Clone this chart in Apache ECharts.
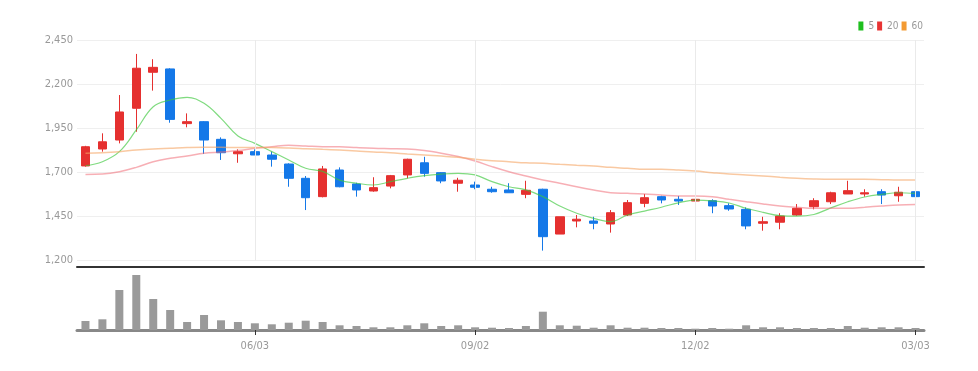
<!DOCTYPE html>
<html><head><meta charset="utf-8">
<script src="https://cdn.jsdelivr.net/npm/echarts@6/dist/echarts.min.js"></script>
<style>html,body{margin:0;padding:0;background:#fff}#c{width:978px;height:371px}</style>
</head><body><div id="c"></div>
<script>
var dates = ['03/25','04/01','04/08','04/15','04/22','04/29','05/06','05/13','05/20','05/27',
'06/03','06/10','06/17','06/24','07/01','07/08','07/15','07/22','07/29','08/05',
'08/12','08/19','08/26','09/02','09/09','09/16','09/23','09/30','10/07','10/14',
'10/21','10/28','11/04','11/11','11/18','11/25','12/02','12/09','12/16','12/23',
'12/30','01/06','01/13','01/20','01/27','02/03','02/10','02/17','02/24','03/03'];
var tickLabels = ['06/03','09/02','12/02','03/03'];
var openP = [1736,1832,1883,2063,2267,2286,1976,1987,1887,1805,
1817,1798,1747,1666,1562,1713,1634,1594,1622,1685,
1754,1698,1638,1628,1604,1600,1575,1604,1350,1424,
1424,1407,1458,1524,1562,1547,1537,1539,1511,1490,
1411,1417,1458,1505,1533,1577,1577,1590,1567,1590];
var closeP = [1845,1873,2042,2290,2295,2000,1987,1883,1811,1817,
1798,1774,1666,1556,1719,1618,1600,1613,1681,1774,
1694,1651,1655,1615,1590,1584,1598,1335,1448,1434,
1411,1471,1528,1556,1543,1537,1547,1509,1492,1396,
1420,1452,1496,1539,1584,1596,1584,1571,1587,1562];
var lowP = [1732,1817,1864,1930,2163,1981,1955,1804,1770,1754,
1798,1732,1618,1486,1558,1615,1562,1590,1609,1666,
1675,1638,1590,1604,1584,1584,1553,1256,1350,1388,
1377,1358,1452,1502,1524,1515,1515,1468,1482,1377,
1369,1377,1454,1490,1520,1577,1562,1520,1533,1562];
var highP = [1850,1921,2138,2371,2341,2290,2034,1990,1898,1830,
1830,1817,1751,1679,1736,1728,1641,1672,1685,1777,
1788,1700,1669,1647,1618,1638,1652,1607,1448,1458,
1448,1486,1543,1577,1567,1566,1548,1547,1524,1501,
1448,1468,1520,1553,1590,1652,1604,1604,1618,1609];
var ma5 = [1737,1760,1817,1940,2072,2110,2125,2091,2006,1906,
1864,1817,1770,1723,1705,1656,1638,1628,1647,1666,
1681,1690,1694,1685,1647,1618,1600,1562,1509,1468,
1439,1420,1458,1480,1502,1527,1542,1538,1526,1496,
1473,1454,1451,1461,1498,1533,1560,1575,1584,1580];
var ma20 = [1688,1690,1703,1728,1760,1779,1792,1808,1815,1823,
1836,1845,1853,1849,1845,1845,1840,1836,1834,1832,
1823,1808,1789,1764,1732,1703,1679,1656,1638,1618,
1600,1584,1581,1577,1571,1566,1566,1562,1547,1533,
1520,1509,1502,1496,1496,1496,1502,1509,1515,1518];
var ma60 = [1808,1811,1817,1826,1832,1836,1840,1842,1842,1840,
1840,1840,1838,1834,1830,1826,1821,1815,1811,1804,
1798,1792,1785,1774,1766,1760,1754,1751,1745,1740,
1736,1728,1723,1717,1717,1713,1707,1698,1690,1685,
1679,1672,1666,1662,1660,1660,1660,1658,1656,1656];
var volume = [90000,107000,400000,550000,310000,200000,80000,150000,97000,80000,
67000,57000,73000,93000,80000,47000,40000,27000,27000,47000,
67000,40000,47000,27000,23000,20000,40000,183000,47000,43000,
23000,47000,23000,23000,20000,20000,13000,20000,13000,47000,
27000,27000,20000,20000,20000,40000,23000,27000,27000,20000];

var candles = dates.map(function(d,i){return [openP[i],closeP[i],lowP[i],highP[i]];});
var font = "'Liberation Sans Narrow','DejaVu Sans Condensed','Roboto Condensed',sans-serif";
var chart = echarts.init(document.getElementById('c'), null, {renderer:'canvas'});
function showTick(i, v){ return tickLabels.indexOf(v) >= 0; }
chart.setOption({
  animation:false,
  backgroundColor:'#fff',
  legend:{
    right:55, top:21, padding:0, itemWidth:5, itemHeight:9, itemGap:3,
    icon:'rect',
    textStyle:{color:'#999', fontSize:10, fontFamily:font},
    data:['5','20','60']
  },
  grid:[
    {left:77, right:54, top:40, height:220.5},
    {left:77, right:54, top:267, bottom:41}
  ],
  xAxis:[
    {type:'category', gridIndex:0, data:dates, boundaryGap:true, offset:6,
     axisLine:{show:true, lineStyle:{color:'#333', width:2}},
     axisTick:{show:false}, axisLabel:{show:false}, splitLine:{show:false}},
    {type:'category', gridIndex:1, data:dates, boundaryGap:true,
     axisLine:{show:true, lineStyle:{color:'#888', width:3}},
     axisTick:{show:true, alignWithLabel:true, interval:showTick, length:5, lineStyle:{color:'#333', width:1}},
     axisLabel:{show:true, interval:showTick, color:'#999', fontSize:11, fontFamily:font, margin:11},
     splitLine:{show:false}}
  ],
  yAxis:[
    {type:'value', gridIndex:0, min:1200, max:2450, interval:250, scale:true,
     axisLine:{show:false}, axisTick:{show:false},
     axisLabel:{color:'#999', fontSize:11, fontFamily:font, margin:4,
       formatter:function(v){return v.toLocaleString('en-US');}},
     splitLine:{show:true, lineStyle:{color:'#efefef', width:1}}},
    {type:'value', gridIndex:1, min:0, max:630000, show:false, splitLine:{show:false}}
  ],
  series:[
    {type:'candlestick', name:'price', xAxisIndex:0, yAxisIndex:0, data:candles, barWidth:9,
     itemStyle:{color:'#e5302f', color0:'#1478e8', borderColor:'#e5302f', borderColor0:'#1478e8', borderWidth:1},
     markLine:{silent:true, symbol:'none', label:{show:false},
       lineStyle:{color:'#eaeaea', width:1, type:'solid'},
       data:tickLabels.map(function(t){return {xAxis:t};})},
     z:3},
    {type:'line', name:'5', data:ma5, symbol:'none', smooth:0.4, color:'#1fbf1f',
     lineStyle:{width:1.2, color:'rgba(60,200,60,0.65)'}, z:4},
    {type:'line', name:'20', data:ma20, symbol:'none', smooth:0.4, color:'#e83434',
     lineStyle:{width:1.5, color:'rgba(240,110,120,0.55)'}, z:4},
    {type:'line', name:'60', data:ma60, symbol:'none', smooth:0.4, color:'#f39a32',
     lineStyle:{width:1.5, color:'rgba(245,165,100,0.6)'}, z:4},
    {type:'bar', name:'vol', xAxisIndex:1, yAxisIndex:1, data:volume, barWidth:8,
     itemStyle:{color:'#9a9a9a'}}
  ]
});
</script></body></html>
